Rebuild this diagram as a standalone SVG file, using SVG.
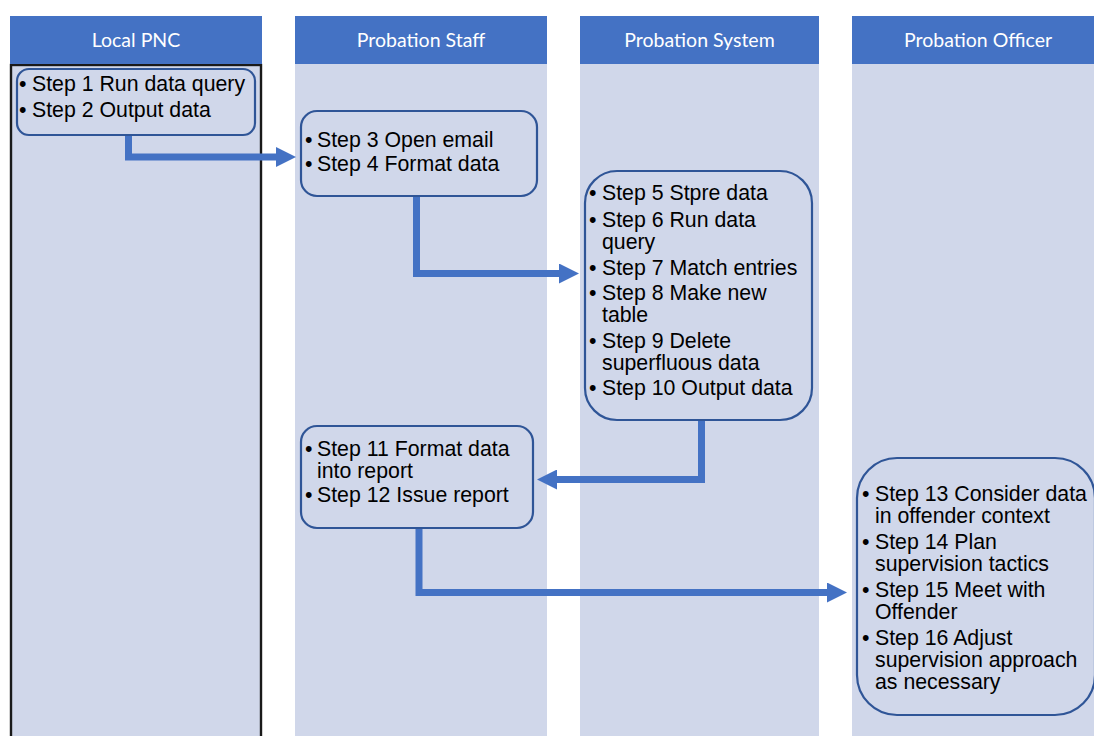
<svg xmlns="http://www.w3.org/2000/svg" width="1094" height="736" viewBox="0 0 1094 736">
  <style>
    .lane { fill: #D0D7EA; }
    .head { fill: #4472C4; }
    .head-text { font-family: Lato, "Open Sans", sans-serif; font-size: 19.5px; fill: #FFFFFF; text-anchor: middle; }
    .box { fill: none; stroke: #2F5597; stroke-width: 2.2; }
    .step { font-family: "Liberation Sans", Arial, sans-serif; font-size: 21.3px; fill: #000000; }
    .flow { fill: none; stroke: #4472C4; stroke-width: 7; }
  </style>
  <defs>
    <marker id="head" viewBox="0 0 20 20" refX="1" refY="10" markerWidth="20" markerHeight="20" markerUnits="userSpaceOnUse" orient="auto">
      <path d="M0,0 L20,10 L0,20 z" fill="#4472C4"/>
    </marker>
  </defs>

  <!-- swimlanes -->
  <g id="lanes">
    <g id="lane-local-pnc">
      <rect class="lane" x="10" y="64" width="252" height="680"/>
      <rect x="11" y="65" width="250" height="680" fill="none" stroke="#1A1A1A" stroke-width="2.4"/>
      <rect class="head" x="10" y="16" width="252" height="48"/>
      <text class="head-text" x="136" y="47">Local PNC</text>
    </g>
    <g id="lane-probation-staff">
      <rect class="lane" x="295" y="64" width="252" height="680"/>
      <rect class="head" x="295" y="16" width="252" height="48"/>
      <text class="head-text" x="421" y="47">Probation Staff</text>
    </g>
    <g id="lane-probation-system">
      <rect class="lane" x="580" y="64" width="239" height="680"/>
      <rect class="head" x="580" y="16" width="239" height="48"/>
      <text class="head-text" x="699.5" y="47">Probation System</text>
    </g>
    <g id="lane-probation-officer">
      <rect class="lane" x="852" y="64" width="252" height="680"/>
      <rect class="head" x="852" y="16" width="252" height="48"/>
      <text class="head-text" x="978" y="47">Probation Officer</text>
    </g>
  </g>

  <!-- connectors -->
  <g id="connectors">
    <path class="flow" d="M128.5,134 V157 H277" marker-end="url(#head)"/>
    <path class="flow" d="M416.5,196 V273.5 H560" marker-end="url(#head)"/>
    <path class="flow" d="M701.5,420 V479.5 H556" marker-end="url(#head)"/>
    <path class="flow" d="M419,528 V592.5 H828" marker-end="url(#head)"/>
  </g>

  <!-- process steps -->
  <g id="node-steps-1-2">
    <rect class="box" x="17" y="69" width="238" height="66" rx="12"/>
    <text class="step" x="19" y="91">•</text>
    <text class="step" x="32" y="91">Step 1 Run data query</text>
    <text class="step" x="19" y="117">•</text>
    <text class="step" x="32" y="117">Step 2 Output data</text>
  </g>

  <g id="node-steps-3-4">
    <rect class="box" x="301" y="111" width="236" height="85" rx="16"/>
    <text class="step" x="305" y="147">•</text>
    <text class="step" x="317" y="147">Step 3 Open email</text>
    <text class="step" x="305" y="171">•</text>
    <text class="step" x="317" y="171">Step 4 Format data</text>
  </g>

  <g id="node-steps-5-10">
    <rect class="box" x="585" y="171" width="227" height="249" rx="32"/>
    <text class="step" x="589" y="200">•</text>
    <text class="step" x="602" y="200">Step 5 Stpre data</text>
    <text class="step" x="589" y="227">•</text>
    <text class="step" x="602" y="227">Step 6 Run data</text>
    <text class="step" x="602" y="249">query</text>
    <text class="step" x="589" y="275">•</text>
    <text class="step" x="602" y="275">Step 7 Match entries</text>
    <text class="step" x="589" y="300">•</text>
    <text class="step" x="602" y="300">Step 8 Make new</text>
    <text class="step" x="602" y="322">table</text>
    <text class="step" x="589" y="348">•</text>
    <text class="step" x="602" y="348">Step 9 Delete</text>
    <text class="step" x="602" y="370">superfluous data</text>
    <text class="step" x="589" y="395">•</text>
    <text class="step" x="602" y="395">Step 10 Output data</text>
  </g>

  <g id="node-steps-11-12">
    <rect class="box" x="301" y="426" width="232" height="102" rx="16"/>
    <text class="step" x="305" y="456">•</text>
    <text class="step" x="317" y="456">Step 11 Format data</text>
    <text class="step" x="317" y="478">into report</text>
    <text class="step" x="305" y="502">•</text>
    <text class="step" x="317" y="502">Step 12 Issue report</text>
  </g>

  <g id="node-steps-13-16">
    <rect class="box" x="857" y="458" width="238" height="257" rx="40"/>
    <text class="step" x="862" y="501">•</text>
    <text class="step" x="875" y="501">Step 13 Consider data</text>
    <text class="step" x="875" y="523">in offender context</text>
    <text class="step" x="862" y="549">•</text>
    <text class="step" x="875" y="549">Step 14 Plan</text>
    <text class="step" x="875" y="571">supervision tactics</text>
    <text class="step" x="862" y="597">•</text>
    <text class="step" x="875" y="597">Step 15 Meet with</text>
    <text class="step" x="875" y="619">Offender</text>
    <text class="step" x="862" y="645">•</text>
    <text class="step" x="875" y="645">Step 16 Adjust</text>
    <text class="step" x="875" y="667">supervision approach</text>
    <text class="step" x="875" y="689">as necessary</text>
  </g>
</svg>
